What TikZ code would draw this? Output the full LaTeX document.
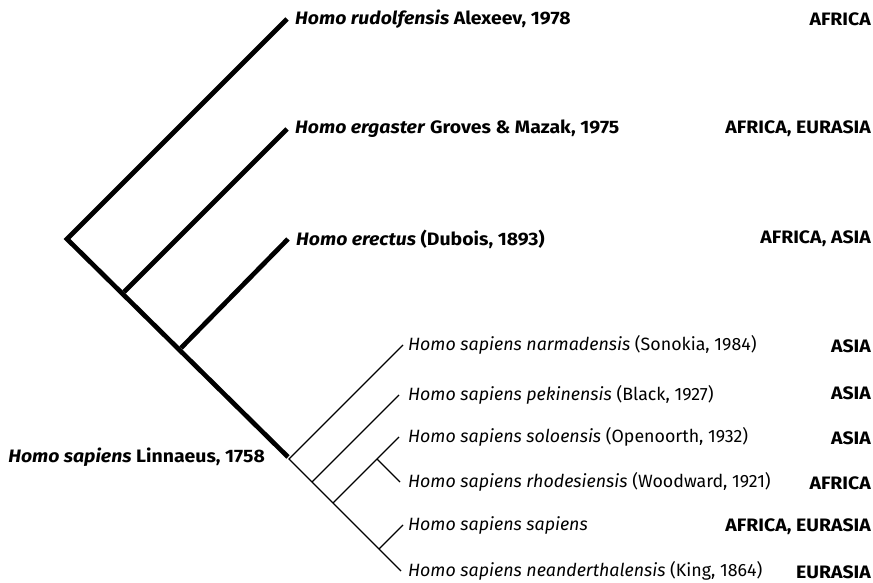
\documentclass[tikz,border=0pt]{standalone}
\usepackage{fontspec}
\setmainfont{Fira Sans}
\newfontfamily\widesans[FakeStretch=1.08]{Fira Sans}
\usetikzlibrary{positioning}
\tikzset{thickbr/.style={line width=4.7pt},
	 thinbr/.style={line width=1.2pt},
	 taxon/.style={inner sep=0pt,font=\fontsize{17.8}{19}\selectfont},
	 btaxon/.style={inner sep=0pt,font=\fontsize{18}{19}\widesans\bfseries},
	 region/.style={anchor=east,inner sep=0pt,font=\fontsize{18}{19}\widesans\bfseries},
	 node distance = 7pt
	 }

\begin{document}
\begin{tikzpicture}[x=1pt,y=-1pt]
	\useasboundingbox (0,0) rectangle (873,583);
	% species of Homo
	\coordinate (r0) at (67,239);
	\coordinate (r1) at (124,292);
	\coordinate (r2) at (181,348);
	\coordinate (hs) at (288,457);
	\coordinate (t1) at (287,19);
	\coordinate (t2) at (287,129);
	\coordinate (t3) at (288,239);
	\node[btaxon] (rud) [right=8pt of t1] {\textit{Homo rudolfensis} Alexeev, 1978};
	\node[btaxon] (erg) [right=8pt of t2] {\textit{Homo ergaster} Groves \& Mazak, 1975};
	\node[btaxon] (ere) [right=8pt of t3] {\textit{Homo erectus} (Dubois, 1893)};
	\node[btaxon] (hsl) [left=23pt of hs] {\textit{Homo sapiens} Linnaeus, 1758};
	\draw[thickbr] (t1) -- (r0) -- (hs);
	\draw[thickbr] (r1) -- (t2); \draw[thickbr] (r2) -- (t3);
	% subspecies of Homo sapiens
	\coordinate (s0) at (289,459);
	\coordinate (s1) at (312,482);
	\coordinate (s2) at (333,503);
	\coordinate (s3) at (377,459);
	\coordinate (s4) at (379,549);
	\coordinate (u1) at (403,345);
	\coordinate (u2) at (399,395);
	\coordinate (u3) at (399,437);
	\coordinate (u4) at (400,482);
	\coordinate (u5) at (403,525);
	\coordinate (u6) at (401,571);
	\node[taxon] (nar) [right=5pt of u1] {\textit{Homo sapiens narmadensis} (Sonokia, 1984)};
	\node[taxon] (pek) [right=9pt of u2] {\textit{Homo sapiens pekinensis} (Black, 1927)};
	\node[taxon] (sol) [right=9pt of u3] {\textit{Homo sapiens soloensis} (Openoorth, 1932)};
	\node[taxon] (rho) [right=8pt of u4] {\textit{Homo sapiens rhodesiensis} (Woodward, 1921)};
	\node[taxon] (sap) [right=5pt of u5] {\textit{Homo sapiens sapiens}};
	\node[taxon] (nea) [right=7pt of u6] {\textit{Homo sapiens neanderthalensis} (King, 1864)};
	\draw[thinbr] (u1) -- (s0) -- (s1) -- (s2) -- (s4) -- (u6);
	\draw[thinbr] (s1) -- (u2);
	\draw[thinbr] (s2) -- (s3) -- (u3); \draw[thinbr] (s3) -- (u4);
	\draw[thinbr] (s4) -- (u5);
	% distribution
	\node[region] (g1) at (871,19) {AFRICA};
	\node[region] (g2) at (871,129) {AFRICA, EURASIA};
	\node[region] (g3) at (871,239) {AFRICA, ASIA};
	\node[region] (g4) at (871,346) {ASIA};
	\node[region] (g5) at (871,393) {ASIA};
	\node[region] (g6) at (871,438) {ASIA};
	\node[region] (g7) at (871,483) {AFRICA};
	\node[region] (g8) at (871,527) {AFRICA, EURASIA};
	\node[region] (g9) at (871,572) {EURASIA};
\end{tikzpicture}
\end{document}
